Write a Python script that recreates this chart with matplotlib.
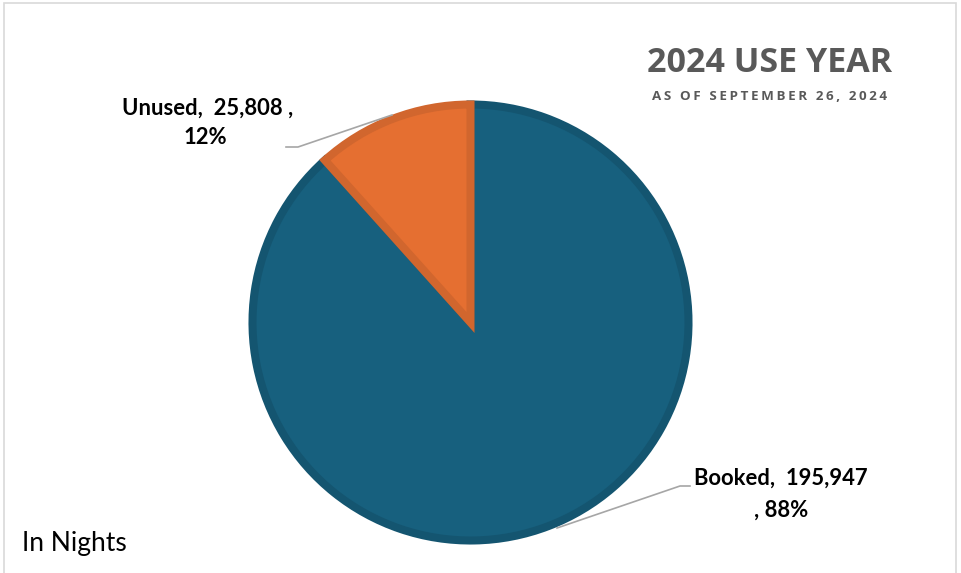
import matplotlib
matplotlib.use("Agg")
import matplotlib.pyplot as plt
from matplotlib.patches import Rectangle

labels = ["Booked", "Unused"]
nights = [195947, 25808]
percents = ["88%", "12%"]
fills = ["#17607E", "#E56F31"]
borders = ["#145570", "#D1662E"]

plt.rcParams['font.family'] = ['Lato', 'DejaVu Sans']

W, H = 961, 573
fig = plt.figure(figsize=(W / 100, H / 100), dpi=100)
ax = fig.add_axes([0, 0, 1, 1])

# light frame around the chart area
fig.patches.append(Rectangle((4 / W, -0.01), (W - 9) / W, (H - 3) / H + 0.01,
                             transform=fig.transFigure, fill=False,
                             edgecolor="#D9D9D9", linewidth=1.2))

cx, cy, r = 470.5, H - 322.5, 218
wedges, _ = ax.pie(nights, startangle=90, counterclock=False,
                   center=(cx, cy), radius=r, colors=fills,
                   wedgeprops=dict(linewidth=5.8, joinstyle='miter'),
                   frame=True)
for w, ec in zip(wedges, borders):
    w.set_edgecolor(ec)
ax.set_xlim(0, W)
ax.set_ylim(0, H)
ax.set_aspect('auto')
ax.axis('off')

def y(v):
    return H - v

# leader lines
ax.plot([286, 298, 392], [y(147), y(147), y(115)], color="#A6A6A6", lw=1.2)
ax.plot([690, 680, 557], [y(486), y(486), y(528)], color="#A6A6A6", lw=1.2)

lab_kw = dict(fontsize=15.8, fontweight='bold', color='black', ha='center', va='center')
ax.text(208, y(108), f"{labels[1]},  {nights[1]:,} ,", **lab_kw)
ax.text(205, y(138), percents[1], **lab_kw)
ax.text(781, y(478), f"{labels[0]},  {nights[0]:,}", **lab_kw)
ax.text(781, y(510), f", {percents[0]}", **lab_kw)

title_font = ['Open Sans', 'DejaVu Sans']
ax.text(770, y(63), "2024 USE YEAR", fontsize=24.5, fontweight='bold',
        family=title_font, color="#595959", ha='center', va='center')
subtitle = "AS OF SEPTEMBER 26, 2024"
ax.text(770, y(97), "\u2009".join(subtitle), fontsize=9.6, fontweight='bold',
        family=title_font, color="#595959", ha='center', va='center')

ax.text(22, y(544), "In Nights", fontsize=19, color='black', ha='left', va='center')

fig.savefig("out.png", dpi=100)
